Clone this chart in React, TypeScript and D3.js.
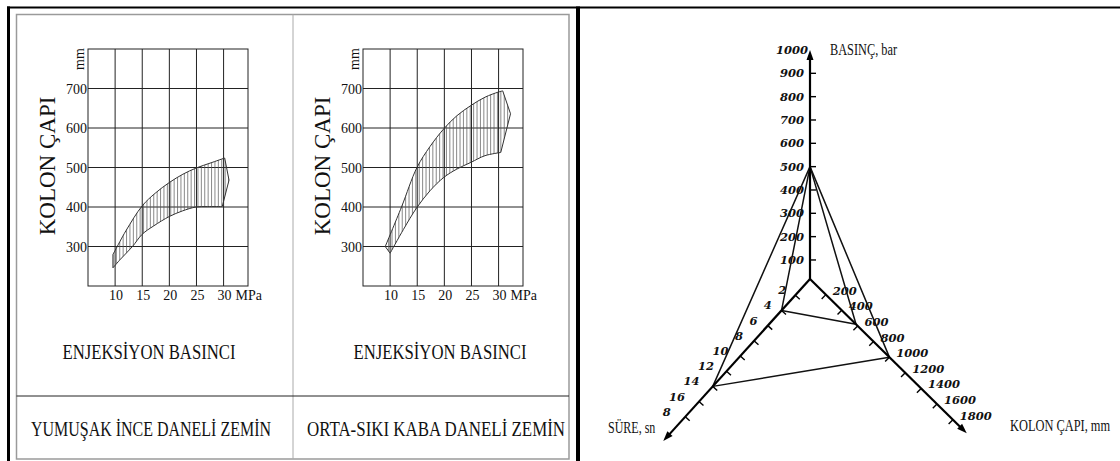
import React from "react";
import * as d3 from "d3";

// left panel: two band charts (column diameter vs injection pressure)
const xTicks = [10, 15, 20, 25, 30];
const yTicks = [300, 400, 500, 600, 700];

// YUMUŞAK İNCE DANELİ ZEMİN
const softUpper = [[9.6, 280], [10, 290], [12, 340], [15, 403], [17.4, 435], [20, 462], [22.5, 483], [25, 499], [27.5, 511], [30.2, 524]];
const softEdge = [[31, 468]];
const softLower = [[29.75, 401], [27, 401], [24.9, 400], [22.4, 390], [20, 376], [17.1, 352], [15, 331], [13.2, 300], [11, 268], [9.6, 246]];

// ORTA-SIKI KABA DANELİ ZEMİN
const denseUpper = [[9.1, 300], [12.1, 400], [14.95, 500], [17.35, 553], [19.9, 598], [22.3, 631], [24.9, 657], [27.5, 678], [29.95, 691], [30.76, 694]];
const denseEdge = [[32.2, 636]];
const denseLower = [[30.4, 538], [27.5, 530], [24.9, 513], [22.3, 496], [19.9, 475], [17.35, 441], [14.9, 398], [12.45, 343], [10, 283]];

// right panel: three-axis nomogram
const barTicks = [100, 200, 300, 400, 500, 600, 700, 800, 900, 1000];
const sureTicks = [2, 4, 6, 8, 10, 12, 14, 16, 18];
const sureLabels = ["2", "4", "6", "8", "10", "12", "14", "16", "8"];
const kolonTicks = [200, 400, 600, 800, 1000, 1200, 1400, 1600, 1800];
const triangles = [
  { bar: 500, sn: 4, mm: 580 },
  { bar: 500, sn: 14, mm: 1000 },
];

const SERIF = "'Liberation Serif', 'Times New Roman', serif";

function BandChart({ x0, upper, edge, lower, id }: any) {
  const x = d3.scaleLinear().domain([5, 34.5]).range([x0, x0 + 160]);
  const y = d3.scaleLinear().domain([200, 800]).range([286, 49]);
  const curve = d3
    .line<number[]>()
    .x((d) => x(d[0]))
    .y((d) => y(d[1]))
    .curve(d3.curveCatmullRom.alpha(0.5));
  const d =
    curve(upper) +
    edge.map((p: number[]) => `L${x(p[0])},${y(p[1])}`).join("") +
    (curve(lower) as string).replace(/^M/, "L") +
    "Z";
  const all = [...upper, ...edge, ...lower];
  const xmin = x(d3.min(all, (p: number[]) => p[0]) as number);
  const xmax = x(d3.max(all, (p: number[]) => p[0]) as number);
  const hatch = d3.range(xmin, xmax, 3.4);
  const [xa, xb] = x.range();
  const [yb, ya] = y.range();

  return (
    <g>
      <defs>
        <clipPath id={id}>
          <path d={d} />
        </clipPath>
      </defs>
      {/* grid */}
      {xTicks.map((t) => (
        <line key={"v" + t} x1={x(t)} x2={x(t)} y1={ya} y2={yb} stroke="#222" strokeWidth={1} />
      ))}
      {yTicks.map((t) => (
        <line key={"h" + t} x1={xa} x2={xb} y1={y(t)} y2={y(t)} stroke="#222" strokeWidth={1} />
      ))}
      <rect x={xa} y={ya} width={xb - xa} height={yb - ya} fill="none" stroke="#222" strokeWidth={1} />
      {/* band */}
      <g clipPath={`url(#${id})`}>
        {hatch.map((h, i) => (
          <line key={i} x1={h} x2={h} y1={ya} y2={yb} stroke="#555" strokeWidth={0.7} />
        ))}
      </g>
      <path d={d} fill="none" stroke="#333" strokeWidth={1} />
      {/* tick labels */}
      {yTicks.map((t) => (
        <text key={"yl" + t} x={xa - 1} y={y(t) + 5} textAnchor="end" fontFamily={SERIF} fontSize={14} fill="#111">
          {t}
        </text>
      ))}
      {xTicks.map((t) => (
        <text key={"xl" + t} x={x(t) + 1} y={300} textAnchor="middle" fontFamily={SERIF} fontSize={14} fill="#111">
          {t}
        </text>
      ))}
      <text x={x(30) + 12} y={300} fontFamily={SERIF} fontSize={14} fill="#111">
        MPa
      </text>
      <text transform={`translate(${xa - 4},59) rotate(-90)`} textAnchor="middle" fontFamily={SERIF} fontSize={14} fill="#111">
        mm
      </text>
      <text transform={`translate(${xa - 33},166) rotate(-90)`} textAnchor="middle" fontFamily={SERIF} fontSize={23} fill="#111">
        KOLON ÇAPI
      </text>
    </g>
  );
}

function Nomogram() {
  const C = { x: 810, y: 279 };
  const sureDir = [-0.671, 0.741];
  const kolonDir = [0.7125, 0.7016];
  const barY = d3.scaleLinear().domain([0, 1000]).range([283.3, 50]);
  const sureD = d3.scaleLinear().domain([0, 20]).range([1.4, 206.4]);
  const kolonD = d3.scaleLinear().domain([0, 2000]).range([0, 222.8]);
  const pBar = (v: number) => [C.x, barY(v)];
  const pSure = (t: number) => [C.x + sureDir[0] * sureD(t), C.y + sureDir[1] * sureD(t)];
  const pKolon = (m: number) => [C.x + kolonDir[0] * kolonD(m), C.y + kolonDir[1] * kolonD(m)];

  const arrow = (tip: number[], dir: number[]) => {
    const L = 10, W = 3.5;
    const bx = tip[0] - dir[0] * L, by = tip[1] - dir[1] * L;
    const nx = -dir[1], ny = dir[0];
    return `M${tip[0]},${tip[1]}L${bx + nx * W},${by + ny * W}L${bx - nx * W},${by - ny * W}Z`;
  };

  const sureEnd = pSure(21.2);
  const kolonEnd = pKolon(1975);
  const barEnd = pBar(1000);
  const tickFont = "'DejaVu Serif', serif";
  const tickProps = {
    fontFamily: tickFont,
    fontStyle: "italic",
    fontWeight: "bold",
    fontSize: 11.5,
    fill: "#111",
  } as const;

  return (
    <g>
      {/* triangles */}
      {triangles.map((t, i) => {
        const a = pBar(t.bar), b = pSure(t.sn), c = pKolon(t.mm);
        return (
          <path key={i} d={`M${a}L${b}L${c}Z`} fill="none" stroke="#111" strokeWidth={1.5} strokeLinejoin="round" />
        );
      })}
      {/* axes */}
      <line x1={C.x} y1={C.y} x2={barEnd[0]} y2={barEnd[1] + 8} stroke="#000" strokeWidth={2.2} />
      <path d={arrow(barEnd, [0, -1])} fill="#000" />
      <line x1={C.x} y1={C.y} x2={sureEnd[0] - sureDir[0] * 8} y2={sureEnd[1] - sureDir[1] * 8} stroke="#000" strokeWidth={2.2} />
      <path d={arrow(sureEnd, sureDir)} fill="#000" />
      <line x1={C.x} y1={C.y} x2={kolonEnd[0] - kolonDir[0] * 8} y2={kolonEnd[1] - kolonDir[1] * 8} stroke="#000" strokeWidth={2.2} />
      <path d={arrow(kolonEnd, kolonDir)} fill="#000" />

      {/* pressure ticks */}
      {barTicks.map((v) => (
        <g key={"b" + v}>
          {v < 1000 && <line x1={C.x} x2={C.x + 6} y1={barY(v)} y2={barY(v)} stroke="#000" strokeWidth={1.4} />}
          <text x={v === 1000 ? C.x - 2 : C.x - 6} y={barY(v)} dy="0.35em" textAnchor="end" {...tickProps}>
            {v}
          </text>
        </g>
      ))}
      {/* time ticks */}
      {sureTicks.map((t, i) => {
        const p = pSure(t);
        return (
          <g key={"s" + t}>
            <line x1={p[0]} y1={p[1]} x2={p[0] + 0.741 * 6} y2={p[1] + 0.671 * 6} stroke="#000" strokeWidth={1.4} />
            <text x={p[0] - 9 - i * 0.7} y={p[1] - 5} dy="0.35em" textAnchor="end" {...tickProps}>
              {sureLabels[i]}
            </text>
          </g>
        );
      })}
      {/* diameter ticks */}
      {kolonTicks.map((m) => {
        const p = pKolon(m);
        return (
          <g key={"k" + m}>
            <line x1={p[0]} y1={p[1]} x2={p[0] - 0.7016 * 6} y2={p[1] + 0.7125 * 6} stroke="#000" strokeWidth={1.4} />
            <text x={p[0] + 7} y={p[1] - 4} dy="0.35em" textAnchor="start" {...tickProps}>
              {m}
            </text>
          </g>
        );
      })}
      {/* axis titles (condensed serif) */}
      <text transform="translate(830,55) scale(0.77,1)" fontFamily={SERIF} fontSize={16} fill="#111">
        BASINÇ, bar
      </text>
      <text transform="translate(608,433) scale(0.75,1)" fontFamily={SERIF} fontSize={16} fill="#111">
        SÜRE, sn
      </text>
      <text transform="translate(1010,431) scale(0.775,1)" fontFamily={SERIF} fontSize={16} fill="#111">
        KOLON ÇAPI, mm
      </text>
    </g>
  );
}

export default function App() {
  return (
    <svg width={1120} height={461} style={{ position: "absolute", left: 0, top: 0, background: "#fff" }}>
      {/* frames */}
      <rect x={16.5} y={14.5} width={552.5} height={444.5} fill="none" stroke="#9a9a9a" strokeWidth={1.5} />
      <line x1={293} x2={293} y1={14.5} y2={459} stroke="#aaa" strokeWidth={1} />
      <line x1={16.5} x2={569} y1={396} y2={396} stroke="#222" strokeWidth={1} />
      <line x1={8.5} x2={8.5} y1={6.5} y2={461} stroke="#000" strokeWidth={3} />
      <line x1={7} x2={1120} y1={7.5} y2={7.5} stroke="#000" strokeWidth={2} />
      <line x1={578} x2={578} y1={6.5} y2={461} stroke="#000" strokeWidth={4} />

      <BandChart x0={88} upper={softUpper} edge={softEdge} lower={softLower} id="clip-soft" />
      <BandChart x0={363} upper={denseUpper} edge={denseEdge} lower={denseLower} id="clip-dense" />

      <text x={149} y={359} textAnchor="middle" fontFamily={SERIF} fontSize={20} textLength={173} lengthAdjust="spacingAndGlyphs" fill="#111">
        ENJEKSİYON BASINCI
      </text>
      <text x={440} y={359} textAnchor="middle" fontFamily={SERIF} fontSize={20} textLength={173} lengthAdjust="spacingAndGlyphs" fill="#111">
        ENJEKSİYON BASINCI
      </text>
      <text x={151} y={436} textAnchor="middle" fontFamily={SERIF} fontSize={20} textLength={240} lengthAdjust="spacingAndGlyphs" fill="#111">
        YUMUŞAK İNCE DANELİ ZEMİN
      </text>
      <text x={436} y={436} textAnchor="middle" fontFamily={SERIF} fontSize={20} textLength={258} lengthAdjust="spacingAndGlyphs" fill="#111">
        ORTA-SIKI KABA DANELİ ZEMİN
      </text>

      <Nomogram />
    </svg>
  );
}
